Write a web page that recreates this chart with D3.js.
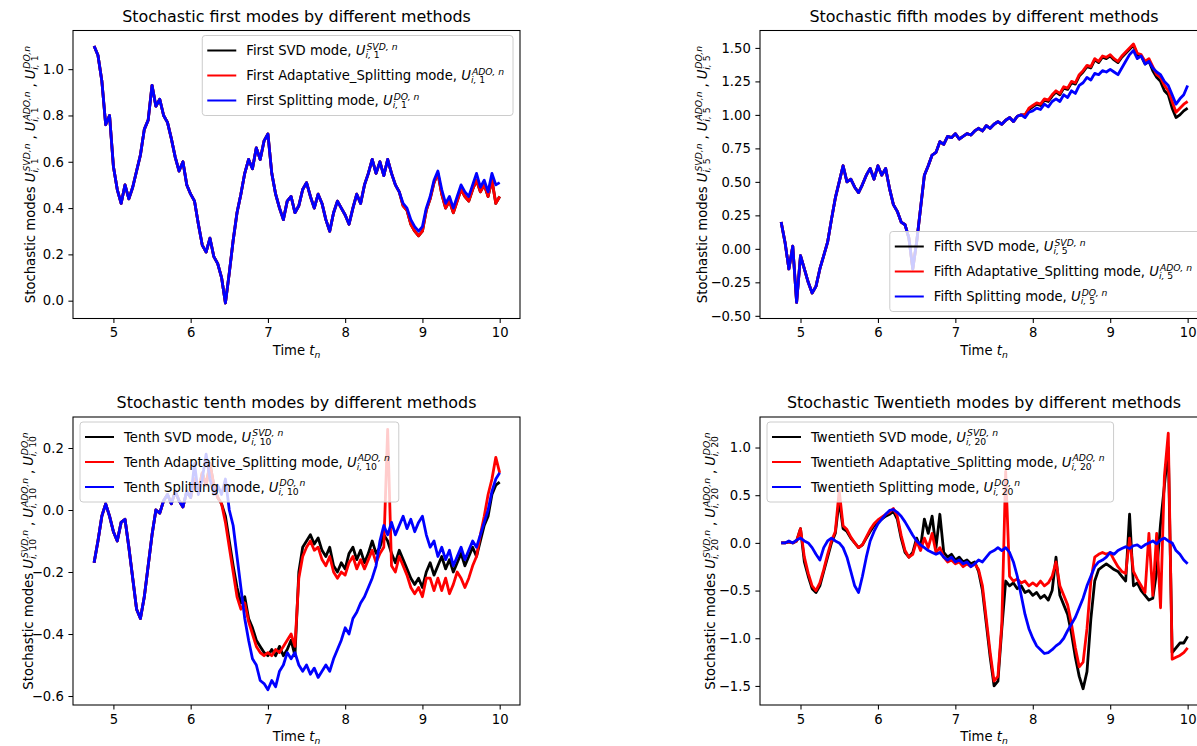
<!DOCTYPE html>
<html><head><meta charset="utf-8">
<script src="https://cdn.jsdelivr.net/npm/d3@7/dist/d3.min.js"></script>
<style>body{margin:0;background:#fff} text{font-family:'DejaVu Sans',sans-serif;}</style>
</head><body><svg id="c" width="1197" height="746" xmlns="http://www.w3.org/2000/svg"></svg>
<script>
// ---------------- DATA ----------------
const T = [4.75,4.80,4.85,4.90,4.95,5.00,5.05,5.10,5.15,5.20,
5.25,5.30,5.35,5.40,5.45,5.50,5.55,5.60,5.65,5.70,
5.75,5.80,5.85,5.90,5.95,6.00,6.05,6.10,6.15,6.20,
6.25,6.30,6.35,6.40,6.45,6.50,6.55,6.60,6.65,6.70,
6.75,6.80,6.85,6.90,6.95,7.00,7.05,7.10,7.15,7.20,
7.25,7.30,7.35,7.40,7.45,7.50,7.55,7.60,7.65,7.70,
7.75,7.80,7.85,7.90,7.95,8.00,8.05,8.10,8.15,8.20,
8.25,8.30,8.35,8.40,8.45,8.50,8.55,8.60,8.65,8.70,
8.75,8.80,8.85,8.90,8.95,9.00,9.05,9.10,9.15,9.20,
9.25,9.30,9.35,9.40,9.45,9.50,9.55,9.60,9.65,9.70,
9.75,9.80,9.85,9.90,9.95,10.00];

// first modes
const svd1 = [1.10,1.06,0.95,0.76,0.80,0.58,0.48,0.42,0.50,0.44,
0.49,0.56,0.63,0.74,0.78,0.93,0.84,0.87,0.80,0.77,
0.70,0.62,0.56,0.60,0.50,0.46,0.43,0.33,0.24,0.21,
0.27,0.19,0.16,0.10,-0.01,0.12,0.26,0.38,0.46,0.55,
0.61,0.57,0.66,0.61,0.69,0.72,0.55,0.46,0.40,0.35,
0.43,0.45,0.38,0.41,0.48,0.51,0.45,0.40,0.46,0.42,
0.35,0.30,0.38,0.43,0.40,0.37,0.33,0.40,0.46,0.42,
0.50,0.55,0.61,0.55,0.60,0.54,0.61,0.55,0.50,0.47,
0.41,0.39,0.33,0.30,0.28,0.30,0.39,0.44,0.51,0.55,
0.46,0.40,0.43,0.38,0.43,0.48,0.45,0.43,0.48,0.52,
0.47,0.50,0.45,0.52,0.42,0.45];
const ado1 = [1.10,1.06,0.95,0.76,0.80,0.58,0.48,0.42,0.50,0.44,
0.49,0.56,0.63,0.74,0.78,0.93,0.84,0.87,0.80,0.77,
0.70,0.62,0.56,0.60,0.50,0.46,0.43,0.33,0.24,0.21,
0.27,0.19,0.16,0.10,-0.01,0.12,0.26,0.38,0.46,0.55,
0.61,0.57,0.66,0.61,0.69,0.72,0.55,0.46,0.40,0.35,
0.43,0.45,0.38,0.41,0.48,0.51,0.45,0.40,0.46,0.42,
0.35,0.30,0.38,0.43,0.40,0.37,0.33,0.40,0.46,0.42,
0.50,0.55,0.61,0.55,0.60,0.54,0.61,0.55,0.50,0.47,
0.41,0.39,0.33,0.30,0.28,0.30,0.39,0.44,0.51,0.55,
0.46,0.40,0.43,0.38,0.43,0.48,0.45,0.43,0.48,0.52,
0.47,0.50,0.45,0.52,0.42,0.45];
const do1 = [1.10,1.06,0.95,0.76,0.80,0.58,0.48,0.42,0.50,0.44,
0.49,0.56,0.63,0.74,0.78,0.93,0.84,0.87,0.80,0.77,
0.70,0.62,0.56,0.60,0.50,0.46,0.43,0.33,0.24,0.21,
0.27,0.19,0.16,0.10,-0.01,0.12,0.26,0.38,0.46,0.55,
0.61,0.57,0.66,0.61,0.69,0.72,0.55,0.46,0.40,0.35,
0.43,0.45,0.38,0.41,0.48,0.51,0.45,0.40,0.46,0.42,
0.35,0.30,0.38,0.43,0.40,0.37,0.33,0.40,0.46,0.42,
0.50,0.55,0.61,0.55,0.60,0.54,0.61,0.55,0.50,0.47,
0.42,0.40,0.35,0.32,0.30,0.32,0.40,0.45,0.52,0.56,
0.48,0.42,0.45,0.40,0.45,0.50,0.47,0.45,0.50,0.55,
0.49,0.52,0.47,0.55,0.50,0.51];

// fifth modes
const svd5 = [0.20,0.05,-0.15,0.02,-0.40,-0.05,-0.15,-0.25,-0.33,-0.28,
-0.15,-0.05,0.05,0.22,0.38,0.50,0.62,0.50,0.52,0.46,
0.42,0.48,0.55,0.60,0.52,0.62,0.55,0.60,0.45,0.33,
0.28,0.20,0.18,0.08,-0.15,0.05,0.30,0.55,0.62,0.70,
0.72,0.80,0.78,0.84,0.83,0.86,0.82,0.84,0.86,0.85,
0.88,0.90,0.88,0.92,0.90,0.93,0.95,0.93,0.96,0.98,
0.95,0.99,1.00,1.00,1.04,1.06,1.08,1.07,1.11,1.10,
1.14,1.17,1.15,1.20,1.19,1.24,1.23,1.29,1.32,1.36,
1.35,1.41,1.39,1.43,1.42,1.44,1.41,1.39,1.43,1.46,
1.49,1.52,1.45,1.44,1.38,1.40,1.33,1.28,1.25,1.18,
1.15,1.05,0.98,1.00,1.03,1.05];
const ado5 = [0.20,0.05,-0.15,0.02,-0.40,-0.05,-0.15,-0.25,-0.33,-0.28,
-0.15,-0.05,0.05,0.22,0.38,0.50,0.62,0.50,0.52,0.46,
0.42,0.48,0.55,0.60,0.52,0.62,0.55,0.60,0.45,0.33,
0.28,0.20,0.18,0.08,-0.15,0.05,0.30,0.55,0.62,0.70,
0.72,0.80,0.78,0.84,0.83,0.86,0.82,0.84,0.86,0.85,
0.88,0.90,0.88,0.92,0.90,0.93,0.95,0.93,0.96,0.98,
0.95,0.99,1.00,1.00,1.05,1.07,1.09,1.08,1.12,1.11,
1.15,1.18,1.16,1.21,1.20,1.25,1.24,1.30,1.33,1.37,
1.36,1.42,1.40,1.44,1.43,1.45,1.42,1.40,1.44,1.47,
1.50,1.53,1.46,1.45,1.40,1.42,1.36,1.30,1.28,1.22,
1.18,1.10,1.02,1.05,1.08,1.10];
const do5 = [0.20,0.05,-0.15,0.02,-0.40,-0.05,-0.15,-0.25,-0.33,-0.28,
-0.15,-0.05,0.05,0.22,0.38,0.50,0.62,0.50,0.52,0.46,
0.42,0.48,0.55,0.60,0.52,0.62,0.55,0.60,0.45,0.33,
0.28,0.20,0.18,0.08,-0.15,0.05,0.30,0.55,0.62,0.70,
0.72,0.80,0.78,0.84,0.83,0.86,0.82,0.84,0.86,0.85,
0.88,0.90,0.88,0.92,0.90,0.93,0.95,0.93,0.96,0.98,
0.95,0.99,1.00,0.98,1.02,1.03,1.05,1.04,1.08,1.06,
1.10,1.12,1.10,1.15,1.13,1.18,1.16,1.22,1.24,1.28,
1.26,1.31,1.30,1.33,1.32,1.34,1.32,1.30,1.35,1.40,
1.45,1.48,1.42,1.44,1.38,1.40,1.35,1.32,1.30,1.25,
1.22,1.15,1.08,1.12,1.15,1.22];

// tenth modes
const svd10 = [-0.17,-0.10,-0.02,0.02,-0.02,-0.07,-0.10,-0.04,-0.03,-0.12,
-0.22,-0.32,-0.35,-0.28,-0.18,-0.08,0.00,-0.01,0.03,0.05,
0.02,0.06,0.03,0.01,0.06,0.04,0.10,0.06,0.12,0.08,
0.15,0.08,0.04,0.02,-0.02,-0.10,-0.18,-0.25,-0.30,-0.28,
-0.35,-0.38,-0.42,-0.44,-0.46,-0.47,-0.45,-0.47,-0.44,-0.47,
-0.45,-0.42,-0.47,-0.20,-0.12,-0.10,-0.08,-0.11,-0.09,-0.13,
-0.15,-0.12,-0.18,-0.20,-0.17,-0.19,-0.14,-0.12,-0.16,-0.13,
-0.17,-0.14,-0.10,-0.14,-0.12,-0.08,-0.10,-0.14,-0.17,-0.13,
-0.16,-0.19,-0.22,-0.24,-0.22,-0.25,-0.20,-0.17,-0.21,-0.18,
-0.15,-0.19,-0.16,-0.20,-0.17,-0.14,-0.18,-0.15,-0.12,-0.15,
-0.10,-0.05,-0.02,0.05,0.08,0.09];
const ado10 = [-0.17,-0.10,-0.02,0.02,-0.02,-0.07,-0.10,-0.04,-0.03,-0.12,
-0.22,-0.32,-0.35,-0.28,-0.18,-0.08,0.00,-0.01,0.03,0.05,
0.02,0.06,0.03,0.01,0.06,0.04,0.10,0.06,0.12,0.08,
0.15,0.08,0.04,0.02,-0.04,-0.12,-0.20,-0.28,-0.32,-0.30,
-0.36,-0.40,-0.44,-0.46,-0.47,-0.46,-0.47,-0.45,-0.46,-0.44,
-0.42,-0.40,-0.44,-0.22,-0.15,-0.12,-0.10,-0.13,-0.12,-0.16,
-0.18,-0.15,-0.20,-0.22,-0.20,-0.21,-0.17,-0.15,-0.19,-0.16,
-0.19,-0.16,-0.13,-0.17,-0.14,-0.12,0.26,-0.18,-0.20,-0.15,
-0.18,-0.21,-0.25,-0.27,-0.25,-0.28,-0.22,-0.22,-0.26,-0.22,
-0.26,-0.22,-0.27,-0.24,-0.20,-0.22,-0.25,-0.22,-0.18,-0.15,
-0.08,-0.02,0.05,0.10,0.17,0.12];
const do10 = [-0.17,-0.10,-0.02,0.02,-0.02,-0.07,-0.10,-0.04,-0.03,-0.12,
-0.22,-0.32,-0.35,-0.28,-0.18,-0.08,0.00,-0.01,0.03,0.05,
0.02,0.06,0.03,0.01,0.06,0.04,0.15,0.05,0.10,0.18,
0.10,0.05,0.08,0.05,0.10,0.00,-0.05,-0.15,-0.25,-0.35,
-0.42,-0.48,-0.50,-0.55,-0.56,-0.58,-0.55,-0.57,-0.52,-0.50,
-0.46,-0.48,-0.46,-0.50,-0.52,-0.50,-0.53,-0.51,-0.54,-0.52,
-0.50,-0.52,-0.48,-0.45,-0.42,-0.38,-0.40,-0.35,-0.33,-0.30,
-0.28,-0.25,-0.22,-0.18,-0.10,-0.05,-0.08,-0.04,-0.08,-0.05,
-0.02,-0.06,-0.03,-0.07,-0.04,-0.02,-0.08,-0.12,-0.10,-0.15,
-0.12,-0.16,-0.13,-0.18,-0.15,-0.12,-0.16,-0.13,-0.10,-0.12,
-0.08,-0.04,0.00,0.06,0.10,0.12];

// twentieth modes
const svd20 = [0.00,0.00,0.01,0.00,0.02,0.15,-0.20,-0.35,-0.48,-0.52,
-0.45,-0.30,-0.15,0.00,0.10,0.45,0.15,0.12,0.05,0.00,
-0.05,-0.02,0.05,0.12,0.18,0.22,0.25,0.28,0.30,0.33,
0.25,0.05,-0.10,-0.15,-0.10,0.05,-0.05,0.25,0.10,0.28,
-0.05,0.30,-0.10,-0.15,-0.12,-0.18,-0.15,-0.20,-0.18,-0.22,
-0.20,-0.30,-0.50,-0.85,-1.20,-1.50,-1.45,-0.90,-0.40,-0.45,
-0.42,-0.48,-0.45,-0.52,-0.50,-0.55,-0.52,-0.58,-0.55,-0.60,
-0.50,-0.15,-0.55,-0.65,-0.75,-0.95,-1.20,-1.40,-1.53,-1.35,
-0.80,-0.40,-0.28,-0.25,-0.22,-0.25,-0.28,-0.30,-0.35,-0.40,
0.30,-0.45,-0.42,-0.50,-0.55,-0.60,-0.58,-0.30,0.20,0.60,
1.00,-1.15,-1.10,-1.05,-1.05,-0.98];
const ado20 = [0.00,0.00,0.01,0.00,0.02,0.15,-0.15,-0.32,-0.45,-0.50,
-0.42,-0.28,-0.12,0.02,0.12,0.55,0.18,0.14,0.06,0.00,
-0.05,-0.02,0.06,0.14,0.20,0.24,0.27,0.30,0.32,0.36,
0.28,0.08,-0.08,-0.15,-0.12,0.02,-0.08,0.05,-0.05,0.10,
-0.10,-0.05,-0.15,-0.20,-0.18,-0.22,-0.20,-0.25,-0.22,-0.25,
-0.22,-0.28,-0.45,-0.80,-1.15,-1.45,-1.40,-0.85,0.75,-0.35,
-0.40,-0.38,-0.42,-0.40,-0.45,-0.42,-0.45,-0.40,-0.45,-0.42,
-0.35,-0.20,-0.45,-0.55,-0.65,-0.85,-1.10,-1.30,-1.25,-0.90,
-0.40,-0.15,-0.12,-0.10,-0.12,-0.10,-0.18,-0.25,-0.30,-0.32,
0.05,-0.30,-0.38,-0.45,-0.52,0.10,-0.55,0.10,-0.68,0.70,
1.15,-1.22,-1.20,-1.18,-1.15,-1.10];
const do20 = [0.00,0.00,0.02,0.00,0.03,0.05,0.02,0.00,-0.05,-0.12,
-0.18,-0.05,0.02,0.05,0.02,0.00,-0.05,-0.15,-0.30,-0.45,
-0.52,-0.35,-0.15,0.02,0.12,0.20,0.25,0.30,0.34,0.35,
0.32,0.28,0.22,0.15,0.08,0.02,-0.02,-0.05,-0.08,-0.10,
-0.12,-0.10,-0.15,-0.18,-0.15,-0.20,-0.18,-0.22,-0.20,-0.25,
-0.22,-0.18,-0.20,-0.15,-0.10,-0.08,-0.05,-0.08,-0.05,-0.10,
-0.20,-0.35,-0.55,-0.75,-0.90,-1.00,-1.08,-1.12,-1.16,-1.15,
-1.12,-1.08,-1.05,-1.00,-0.92,-0.85,-0.78,-0.68,-0.58,-0.45,
-0.35,-0.25,-0.20,-0.18,-0.15,-0.10,-0.12,-0.08,-0.06,-0.04,
-0.06,-0.03,-0.02,-0.05,-0.02,0.00,0.02,-0.01,0.03,0.05,
0.02,0.00,-0.08,-0.12,-0.18,-0.22];

const xTicks = [5,6,7,8,9,10];
const yTicks1 = [0.0,0.2,0.4,0.6,0.8,1.0];
const yTicks5 = [-0.5,-0.25,0.0,0.25,0.5,0.75,1.0,1.25,1.5];
const yTicks10 = [-0.6,-0.4,-0.2,0.0,0.2];
const yTicks20 = [-1.5,-1.0,-0.5,0.0,0.5,1.0];
const ordinals = ["First","Fifth","Tenth","Twentieth"];
const titles = ["Stochastic first modes by different methods","Stochastic fifth modes by different methods",
  "Stochastic tenth modes by different methods","Stochastic Twentieth modes by different methods"];
const modeIdx = ["1","5","10","20"];
const methodNames = ["SVD mode","Adaptative_Splitting mode","Splitting mode"];
const methodSup = ["SVD, n","ADO, n","DO, n"];
const colors = ["#000000","#ff0000","#0000ff"];

// ---------------- LAYOUT ----------------
const FS = 13.2, TFS = 15.9;
const panels = [
  {x0:73, x1:520, y0:30.5, y1:318.5, ydom:[-0.077,1.167], yt:yTicks1, yf:".1f", ylx:35, series:[svd1,ado1,do1], leg:"ur"},
  {x0:760, x1:1208, y0:30.5, y1:318.5, ydom:[-0.52,1.63], yt:yTicks5, yf:".2f", ylx:707, series:[svd5,ado5,do5], leg:"lr"},
  {x0:73, x1:520, y0:417, y1:705, ydom:[-0.629,0.30], yt:yTicks10, yf:".1f", ylx:33, series:[svd10,ado10,do10], leg:"ul"},
  {x0:760, x1:1208, y0:417, y1:705, ydom:[-1.70,1.32], yt:yTicks20, yf:".1f", ylx:715, series:[svd20,ado20,do20], leg:"ul"}
];

const svg = d3.select("#c");
svg.append("rect").attr("width",1197).attr("height",746).attr("fill","#fff");

function mathText(parent, pieces, size) {
  const g = parent.append("g");
  let x = 0;
  pieces.forEach(p => {
    if (p.gap !== undefined) { x += p.gap * size; return; }
    if (p.sup || p.sub) {
      const ss = size * 0.7;
      let w1 = 0, w2 = 0;
      if (p.sup) {
        const a = g.append("text").attr("x", x + size*0.08).attr("y", -size*0.40).attr("font-size", ss);
        p.sup.forEach(q => a.append("tspan").attr("font-style", q.it ? "italic" : "normal").text(q.t));
        w1 = a.node().getComputedTextLength() + size*0.08;
      }
      if (p.sub) {
        const b = g.append("text").attr("x", x).attr("y", size*0.24).attr("font-size", ss);
        p.sub.forEach(q => b.append("tspan").attr("font-style", q.it ? "italic" : "normal").text(q.t));
        w2 = b.node().getComputedTextLength();
      }
      x += Math.max(w1, w2);
      return;
    }
    const t = g.append("text").attr("x", x).attr("font-size", size)
      .attr("font-style", p.it ? "italic" : "normal").text(p.t);
    x += t.node().getComputedTextLength();
  });
  return {g, w: x};
}
function Uterm(sup, idx) {
  return [{t:"U", it:true}, {sup:[{t:sup, it:true}], sub:[{t:"i, ", it:true},{t:idx}]}];
}
const minus = s => s.replace(/-/g, "\u2212");

panels.forEach((P, pi) => {
  const x = d3.scaleLinear().domain([4.477, 10.263]).range([P.x0, P.x1]);
  const y = d3.scaleLinear().domain(P.ydom).range([P.y1, P.y0]);
  const g = svg.append("g");
  const cid = "clip" + pi;
  svg.append("defs").append("clipPath").attr("id", cid).append("rect")
    .attr("x", P.x0).attr("y", P.y0).attr("width", P.x1 - P.x0).attr("height", P.y1 - P.y0);

  const line = d3.line().x(d => x(d[0])).y(d => y(d[1]));
  const lg = g.append("g").attr("clip-path", `url(#${cid})`);
  P.series.forEach((s, si) => {
    lg.append("path").datum(d3.zip(T, s)).attr("d", line)
      .attr("fill", "none").attr("stroke", colors[si]).attr("stroke-width", 2.8)
      .attr("stroke-linejoin", "round");
  });

  // axes
  const ax = g.append("g").attr("transform", `translate(0,${P.y1})`)
    .call(d3.axisBottom(x).tickValues(xTicks).tickSize(4.6).tickPadding(4.6).tickFormat(d3.format("d")));
  const ay = g.append("g").attr("transform", `translate(${P.x0},0)`)
    .call(d3.axisLeft(y).tickValues(P.yt).tickSize(4.6).tickPadding(4.6).tickFormat(d => minus(d3.format(P.yf)(d))));
  [ax, ay].forEach(a => {
    a.select(".domain").remove();
    a.attr("font-family", null).attr("font-size", null);
    a.selectAll("text").attr("font-size", FS).attr("fill", "#000").style("font-family", "'DejaVu Sans'");
    a.selectAll("line").attr("stroke", "#000").attr("stroke-width", 1.05);
  });
  g.append("rect").attr("x", P.x0).attr("y", P.y0).attr("width", P.x1 - P.x0).attr("height", P.y1 - P.y0)
    .attr("fill", "none").attr("stroke", "#000").attr("stroke-width", 1.05);

  // title
  g.append("text").attr("x", (P.x0 + P.x1) / 2).attr("y", P.y0 - 9).attr("text-anchor", "middle")
    .attr("font-size", TFS).text(titles[pi]);

  // x label
  const xl = mathText(g, [{t:"Time"},{gap:0.32},{t:"t", it:true},{sub:[{t:"n", it:true}]}], FS);
  xl.g.attr("transform", `translate(${(P.x0 + P.x1)/2 - xl.w/2},${P.y1 + 36})`);

  // y label
  const yg = g.append("g");
  const yl = mathText(yg, [{t:"Stochastic modes"},{gap:0.32}, ...Uterm("SVD,n", modeIdx[pi]),
    {gap:0.3},{t:","},{gap:0.3}, ...Uterm("ADO,n", modeIdx[pi]),
    {gap:0.3},{t:","},{gap:0.3}, ...Uterm("DO,n", modeIdx[pi])], FS);
  yl.g.attr("transform", `translate(${-yl.w/2},0)`);
  yg.attr("transform", `translate(${P.ylx},${(P.y0 + P.y1)/2}) rotate(-90)`);

  // legend
  const leg = g.append("g");
  const bg = leg.append("rect");
  let maxW = 0;
  methodNames.forEach((m, mi) => {
    const e = leg.append("g");
    e.append("line").attr("x1", 5).attr("x2", 34).attr("y1", 15 + 25*mi).attr("y2", 15 + 25*mi)
      .attr("stroke", colors[mi]).attr("stroke-width", 2.0);
    const mt = mathText(e, [{t: ordinals[pi] + " " + m + ","},{gap:0.32}, ...Uterm(methodSup[mi], modeIdx[pi])], FS);
    mt.g.attr("transform", `translate(44,${15 + 25*mi + 4.6})`);
    maxW = Math.max(maxW, mt.w);
  });
  const LW = 44 + maxW + 9, LH = 80;
  bg.attr("width", LW).attr("height", LH).attr("rx", 3).attr("fill", "#fff").attr("fill-opacity", 0.8)
    .attr("stroke", "#cccccc").attr("stroke-width", 1);
  let lx, ly;
  if (P.leg === "ur") { lx = P.x1 - 7 - LW; ly = P.y0 + 5; }
  else if (P.leg === "lr") { lx = P.x1 - 7 - LW; ly = P.y1 - 7 - LH; }
  else { lx = P.x0 + 7; ly = P.y0 + 5; }
  leg.attr("transform", `translate(${lx},${ly})`);
});
</script></body></html>
